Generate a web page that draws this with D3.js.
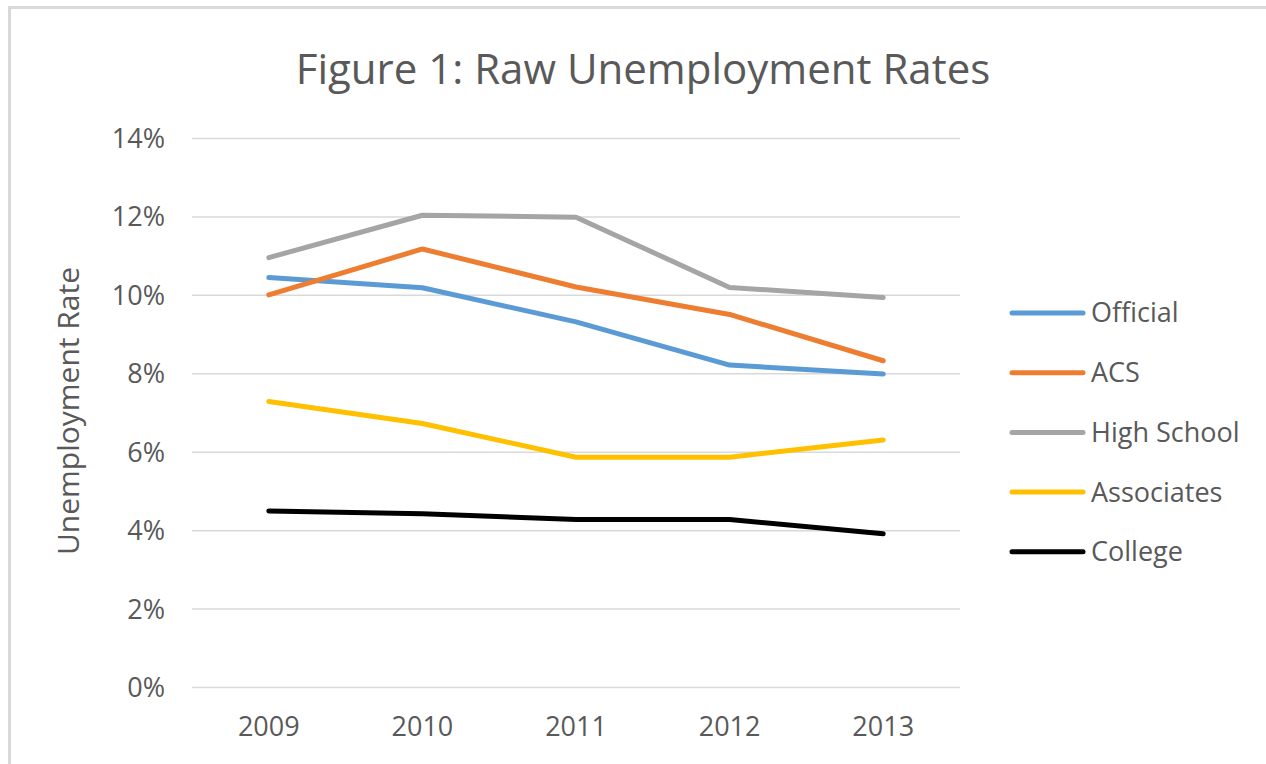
<!DOCTYPE html>
<html>
<head>
  <title>Figure 1: Raw Unemployment Rates</title>
  <style>
    body { margin: 0; background: #fff; }
    text { font-family: "Open Sans", sans-serif; fill: #595959; }
  </style>
</head>
<body>
  <svg width="1266" height="764"></svg>

  <script src="https://d3js.org/d3.v7.min.js"></script>
  <script>

  // values, in percent
  var years = ["2009", "2010", "2011", "2012", "2013"];
  var official   = [10.44, 10.18, 9.31, 8.21, 7.98];
  var acs        = [10.00, 11.17, 10.20, 9.50, 8.32];
  var highSchool = [10.95, 12.03, 11.98, 10.19, 9.93];
  var associates = [7.28, 6.72, 5.86, 5.86, 6.30];
  var college    = [4.49, 4.42, 4.27, 4.27, 3.91];
  var yTicks = [0, 2, 4, 6, 8, 10, 12, 14];

  var series = [
    {name: "Official",    values: official,   color: "#5B9BD5"},
    {name: "ACS",         values: acs,        color: "#ED7D31"},
    {name: "High School", values: highSchool, color: "#A5A5A5"},
    {name: "Associates",  values: associates, color: "#FFC000"},
    {name: "College",     values: college,    color: "#000000"}
  ];

  var svg = d3.select("svg");

  // chart frame (only top and left edges fall inside the shot)
  svg.append("rect")
      .attr("x", 9.5).attr("y", 7.5)
      .attr("width", 1400).attr("height", 900)
      .attr("fill", "none")
      .attr("stroke", "#d9d9d9")
      .attr("stroke-width", 3);

  var x = d3.scaleBand().domain(years).range([192, 960]);
  var y = d3.scaleLinear().domain([0, 14]).range([687, 138]);

  // gridlines + y labels
  var yAxis = svg.append("g")
      .attr("transform", "translate(192,0)")
      .call(d3.axisLeft(y).tickValues(yTicks).tickSize(-768)
          .tickFormat(function(d) { return d + "%"; }));
  yAxis.select(".domain").remove();
  yAxis.selectAll(".tick line").attr("stroke", "#d9d9d9").attr("stroke-width", 1.5);
  yAxis.selectAll(".tick text")
      .attr("x", -27)
      .attr("dy", "0.35em")
      .style("font-size", "27px")
      .attr("font-family", null);

  // x labels
  var xAxis = svg.append("g")
      .attr("transform", "translate(0,687)")
      .call(d3.axisBottom(x).tickSize(0));
  xAxis.select(".domain").remove();
  xAxis.selectAll(".tick text")
      .attr("y", 40)
      .attr("dy", "0.35em")
      .style("font-size", "27px")
      .attr("font-family", null);

  var line = d3.line()
      .x(function(d, i) { return x(years[i]) + x.bandwidth() / 2; })
      .y(function(d) { return y(d); });

  svg.append("g").selectAll("path")
      .data(series)
    .enter().append("path")
      .attr("d", function(d) { return line(d.values); })
      .attr("fill", "none")
      .attr("stroke", function(d) { return d.color; })
      .attr("stroke-width", 5)
      .attr("stroke-linecap", "round")
      .attr("stroke-linejoin", "round");

  // title
  svg.append("text")
      .attr("x", 643).attr("y", 84)
      .attr("text-anchor", "middle")
      .style("font-size", "42px")
      .text("Figure 1: Raw Unemployment Rates");

  // y axis title
  svg.append("text")
      .attr("transform", "translate(68,411) rotate(-90)")
      .attr("text-anchor", "middle")
      .attr("dy", "0.35em")
      .style("font-size", "30px")
      .text("Unemployment Rate");

  // legend
  var legend = svg.append("g").selectAll("g")
      .data(series)
    .enter().append("g")
      .attr("transform", function(d, i) { return "translate(1012," + (313 + i * 59.7) + ")"; });

  legend.append("line")
      .attr("x1", 0).attr("x2", 71)
      .attr("stroke", function(d) { return d.color; })
      .attr("stroke-width", 5)
      .attr("stroke-linecap", "round");

  legend.append("text")
      .attr("x", 79)
      .attr("dy", "0.35em")
      .style("font-size", "27px")
      .text(function(d) { return d.name; });

  </script>
</body>
</html>
